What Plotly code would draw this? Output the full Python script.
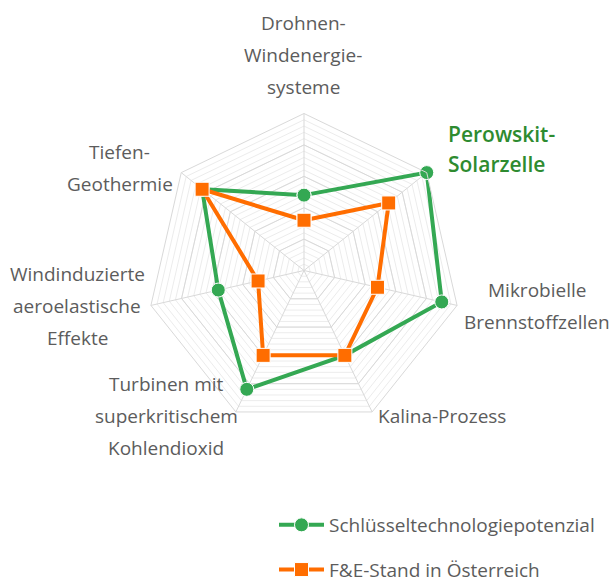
import plotly.graph_objects as go

W, H = 611, 583

categories = ["Drohnen-Windenergiesysteme", "Perowskit-Solarzelle", "Mikrobielle Brennstoffzellen",
              "Kalina-Prozess", "Turbinen mit superkritischem Kohlendioxid",
              "Windinduzierte aeroelastische Effekte", "Tiefen-Geothermie"]
potenzial = [48, 100, 90, 60, 84, 56, 83]
fue_stand = [32, 69, 48, 60, 60, 30, 83]

# label lines and their centres (px) around the chart
label_lines = [
    (["Drohnen-", "Windenergie-", "systeme"], 303, 23, "center"),
    (["Perowskit-", "Solarzelle"], 446, 134, "left"),
    (["Mikrobielle", "Brennstoffzellen"], 537, 290, "center"),
    (["Kalina-Prozess"], 442, 416, "center"),
    (["Turbinen mit", "superkritischem", "Kohlendioxid"], 166, 384, "center"),
    (["Windinduzierte", "aeroelastische", "Effekte"], 77, 274, "center"),
    (["Tiefen-", "Geothermie"], 120, 152, "center"),
]

GREEN = "#34a853"
ORANGE = "#ff6d00"
FONT = "Open Sans"
TEXT = "#5c5c5c"


def px_x(px):
    return px / W


def px_y(py):
    return 1 - py / H


cx, cy, R = 304, 270.5, 157
dom_x = [px_x(cx - R), px_x(cx + R)]
dom_y = [px_y(cy + R), px_y(cy - R)]

theta = categories + [categories[0]]

fig = go.Figure()

# invisible trace so the minor-grid polar knows the categories
fig.add_trace(go.Scatterpolar(r=potenzial, theta=categories, mode="lines", line=dict(width=0),
                              opacity=0, showlegend=False, hoverinfo="skip", subplot="polar"))

fig.add_trace(go.Scatterpolar(
    r=potenzial + [potenzial[0]], theta=theta, mode="lines+markers",
    name="Schlüsseltechnologiepotenzial", legendgroup="a",
    line=dict(color=GREEN, width=4),
    marker=dict(symbol="circle", size=14, color=GREEN, line=dict(color="white", width=1)),
    subplot="polar2"))
fig.add_trace(go.Scatterpolar(
    r=fue_stand + [fue_stand[0]], theta=theta, mode="lines+markers",
    name="F&E-Stand in Österreich", legendgroup="b",
    line=dict(color=ORANGE, width=4),
    marker=dict(symbol="square", size=14, color=ORANGE, line=dict(color="white", width=1)),
    subplot="polar2"))

common_ang = dict(direction="clockwise", rotation=90, showticklabels=False, ticks="")
fig.update_layout(
    width=W, height=H,
    margin=dict(l=0, r=0, t=0, b=0, autoexpand=False),
    paper_bgcolor="white",
    font=dict(family=FONT, size=19, color=TEXT),
    polar=dict(
        domain=dict(x=dom_x, y=dom_y),
        gridshape="linear", bgcolor="white",
        radialaxis=dict(range=[0, 100], tickvals=list(range(4, 100, 4)), gridcolor="#ececec",
                        gridwidth=1, showline=False, showticklabels=False, ticks=""),
        angularaxis=dict(showgrid=False, showline=False, **common_ang),
    ),
    polar2=dict(
        domain=dict(x=dom_x, y=dom_y),
        gridshape="linear", bgcolor="rgba(0,0,0,0)",
        radialaxis=dict(range=[0, 100], tickvals=[20, 40, 60, 80], gridcolor="#d9d9d9",
                        gridwidth=1, showline=False, showticklabels=False, ticks=""),
        angularaxis=dict(showgrid=True, gridcolor="#d9d9d9", showline=True, linecolor="#d9d9d9",
                         linewidth=1, **common_ang),
    ),
    legend=dict(x=px_x(274), y=px_y(506), xanchor="left", yanchor="top",
                orientation="v", tracegroupgap=17, itemwidth=45,
                font=dict(size=19, color=TEXT), bgcolor="rgba(0,0,0,0)"),
    showlegend=True,
)

for lines, x, y0, align in label_lines:
    highlight = lines[0].startswith("Perowskit")
    gap = 30 if highlight else 32
    for i, txt in enumerate(lines):
        fig.add_annotation(
            x=px_x(x), y=px_y(y0 + i * gap), xref="paper", yref="paper",
            text=txt, showarrow=False, xanchor=align, yanchor="middle",
            font=dict(size=21 if highlight else 19, color="#2e8b30" if highlight else TEXT,
                      family=FONT, weight=600 if highlight else 400),
        )

# drop the browser's default body margin so the figure fills the window exactly
fig.write_html("out.html", config={"displayModeBar": False},
               post_script="document.body.style.margin='0';")
